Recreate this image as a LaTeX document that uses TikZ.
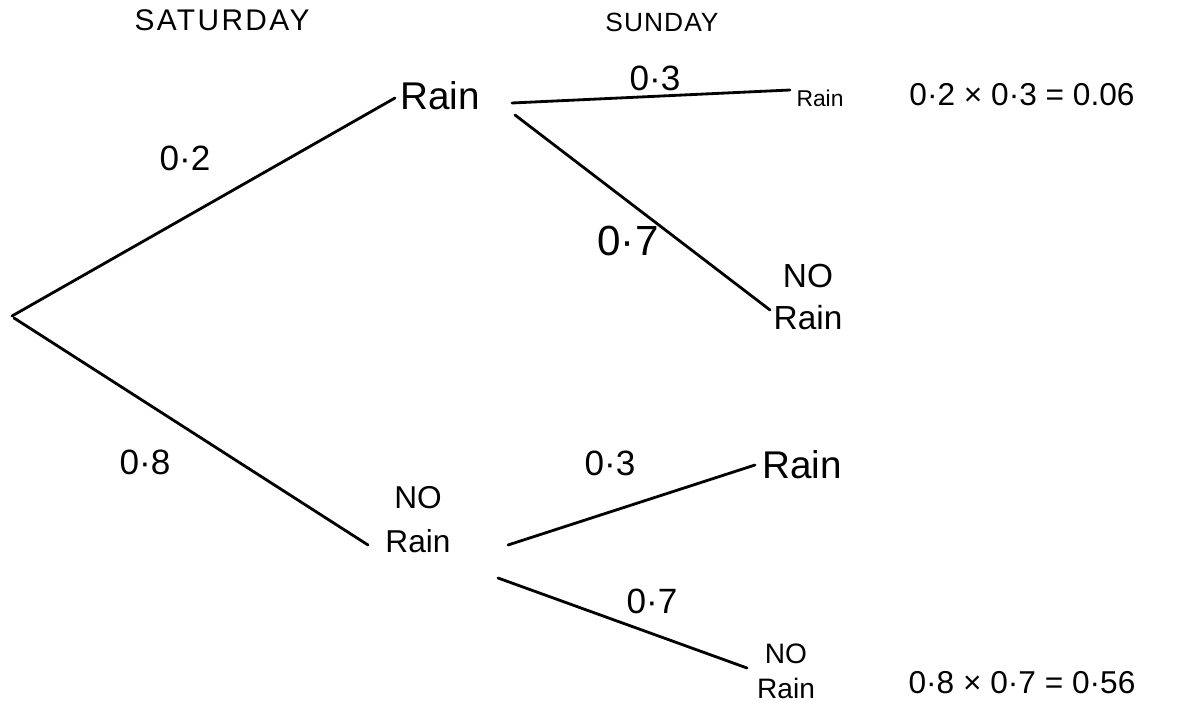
\documentclass[tikz,border=0pt]{standalone}
\usepackage{fontspec}
\setmainfont{Liberation Sans}
\begin{document}
\begin{tikzpicture}[x=0.02cm,y=-0.02cm,
  branch/.style={line width=1.6pt,line cap=round},
  word/.style={inner sep=0pt,align=center},
  prob/.style={inner sep=0pt,font=\fontsize{20}{24}\selectfont}]
\useasboundingbox (0,0) rectangle (1186,706);

% column headings
\node[word,font=\fontsize{17}{20}\selectfont\addfontfeature{LetterSpace=8}] (sat) at (222,20) {SATURDAY};
\node[word,font=\fontsize{15}{18}\selectfont\addfontfeature{LetterSpace=4}] (sun) at (662,22) {SUNDAY};

% Saturday outcomes
\coordinate (root) at (12,316);
\node[word,font=\fontsize{22}{26}\selectfont] (rainA) at (440,96) {Rain};
\node[word,font=\fontsize{18}{25}\selectfont] (norainA) at (418,520) {NO\\Rain};

% Sunday outcomes
\node[word,font=\fontsize{13}{16}\selectfont] (rainB) at (820,98) {Rain};
\node[word,font=\fontsize{19}{24}\selectfont] (norainB) at (808,297) {NO\\Rain};
\node[word,font=\fontsize{22}{26}\selectfont] (rainC) at (802,465) {Rain};
\node[word,font=\fontsize{16}{20}\selectfont] (norainC) at (786,671) {NO\\Rain};

% branches
\draw[branch] (root) -- ([shift={(-45,2)}]rainA.center);
\draw[branch] ([shift={(2,2)}]root) -- ([shift={(-50,25)}]norainA.center);
\draw[branch] ([shift={(72,7)}]rainA.center) -- ([shift={(-30,-8)}]rainB.center);
\draw[branch] ([shift={(75,19)}]rainA.center) -- ([shift={(-38,13)}]norainB.center);
\draw[branch] ([shift={(90,25)}]norainA.center) -- ([shift={(-47,0)}]rainC.center);
\draw[branch] ([shift={(80,58)}]norainA.center) -- ([shift={(-39,-3)}]norainC.center);

% branch probabilities
\node[prob] (pA) at (185,158) {0·2};
\node[prob] (pB) at (145,462) {0·8};
\node[prob] (pC) at (655,78) {0·3};
\node[prob,font=\fontsize{24}{28}\selectfont] (pD) at (628,241) {0·7};
\node[prob] (pE) at (610,463) {0·3};
\node[prob] (pF) at (652,601) {0·7};

% joint probabilities
\node[prob,font=\fontsize{18}{22}\selectfont] (jA) at (1022,95) {0·2 × 0·3 = 0.06};
\node[prob,font=\fontsize{18}{22}\selectfont] (jB) at (1022,683) {0·8 × 0·7 = 0·56};
\end{tikzpicture}
\end{document}
